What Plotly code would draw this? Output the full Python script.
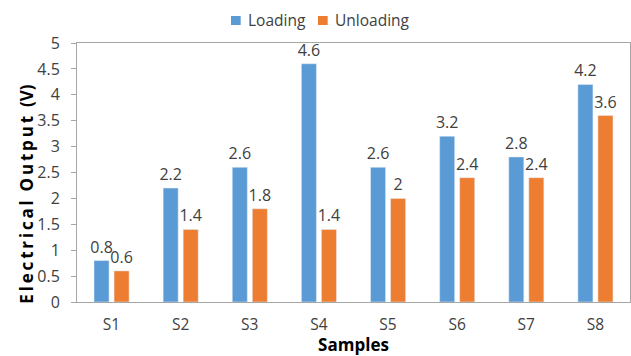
import plotly.graph_objects as go

samples = ["S1", "S2", "S3", "S4", "S5", "S6", "S7", "S8"]
loading = [0.8, 2.2, 2.6, 4.6, 2.6, 3.2, 2.8, 4.2]
unloading = [0.6, 1.4, 1.8, 1.4, 2.0, 2.4, 2.4, 3.6]
y_ticks = [0, 0.5, 1, 1.5, 2, 2.5, 3, 3.5, 4, 4.5, 5]

series = [("Loading", loading, "#5B9BD5"), ("Unloading", unloading, "#ED7D31")]

FONT = "Open Sans"
TXT = "#404040"


def spaced(s):
    # widen the tracking of a title with thin spaces
    return "\u2009".join(s)


fig = go.Figure()
for name, vals, col in series:
    fig.add_trace(go.Bar(
        name=name, x=samples, y=vals,
        marker_color=col,
        text=[f"{v:g}" for v in vals], textposition="outside",
        textfont=dict(size=16, color=TXT, family=FONT),
        constraintext="none", cliponaxis=False,
        showlegend=False,
    ))

# compact legend above the plot: a colour swatch followed by the series name
legend_shapes = []
legend_notes = []
legend_x = [0.2785, 0.4358]
for (name, _, col), x0 in zip(series, legend_x):
    legend_shapes.append(dict(type="rect", xref="paper", yref="paper",
                              x0=x0, x1=x0 + 0.0175, y0=1.0695, y1=1.1042,
                              fillcolor=col, line_width=0))
    legend_notes.append(dict(text=name, xref="paper", yref="paper",
                             x=x0 + 0.027, y=1.0888, xanchor="left", yanchor="middle",
                             showarrow=False, font=dict(size=15.5, color=TXT, family=FONT)))

title_y = "<b>" + spaced("Electrical") + "\u00a0\u00a0" + spaced("Output") + "\u00a0\u00a0(V)</b>"
legend_notes.append(dict(
    text=title_y, textangle=-90, xref="paper", yref="paper", x=-0.092, y=0.415,
    xanchor="center", yanchor="middle", showarrow=False,
    font=dict(size=17, color="#000000", family=FONT),
))

fig.update_layout(
    width=631, height=356,
    margin=dict(l=77, r=1, t=43, b=54),
    paper_bgcolor="white", plot_bgcolor="white",
    barmode="group", bargap=0.42, bargroupgap=0.25,
    font=dict(family=FONT, size=15, color=TXT),
    shapes=legend_shapes,
    annotations=legend_notes,
)
fig.update_xaxes(
    showline=True, linecolor="#A6A6A6", linewidth=1, mirror=True,
    showgrid=False, ticks="", ticklabelstandoff=8,
    tickfont=dict(size=15.5, color=TXT),
    title=dict(text="<b>Samples</b>", font=dict(size=17, color="#000000"), standoff=1),
)
fig.update_yaxes(
    range=[0, 5], tickvals=y_ticks, ticktext=[f"{v:g}" for v in y_ticks],
    showline=True, linecolor="#A6A6A6", linewidth=1, mirror=True,
    showgrid=False, ticks="outside", ticklen=5, tickcolor="#A6A6A6",
    ticklabelstandoff=8,
    tickfont=dict(size=16, color=TXT),
)

fig.write_html("out.html")
